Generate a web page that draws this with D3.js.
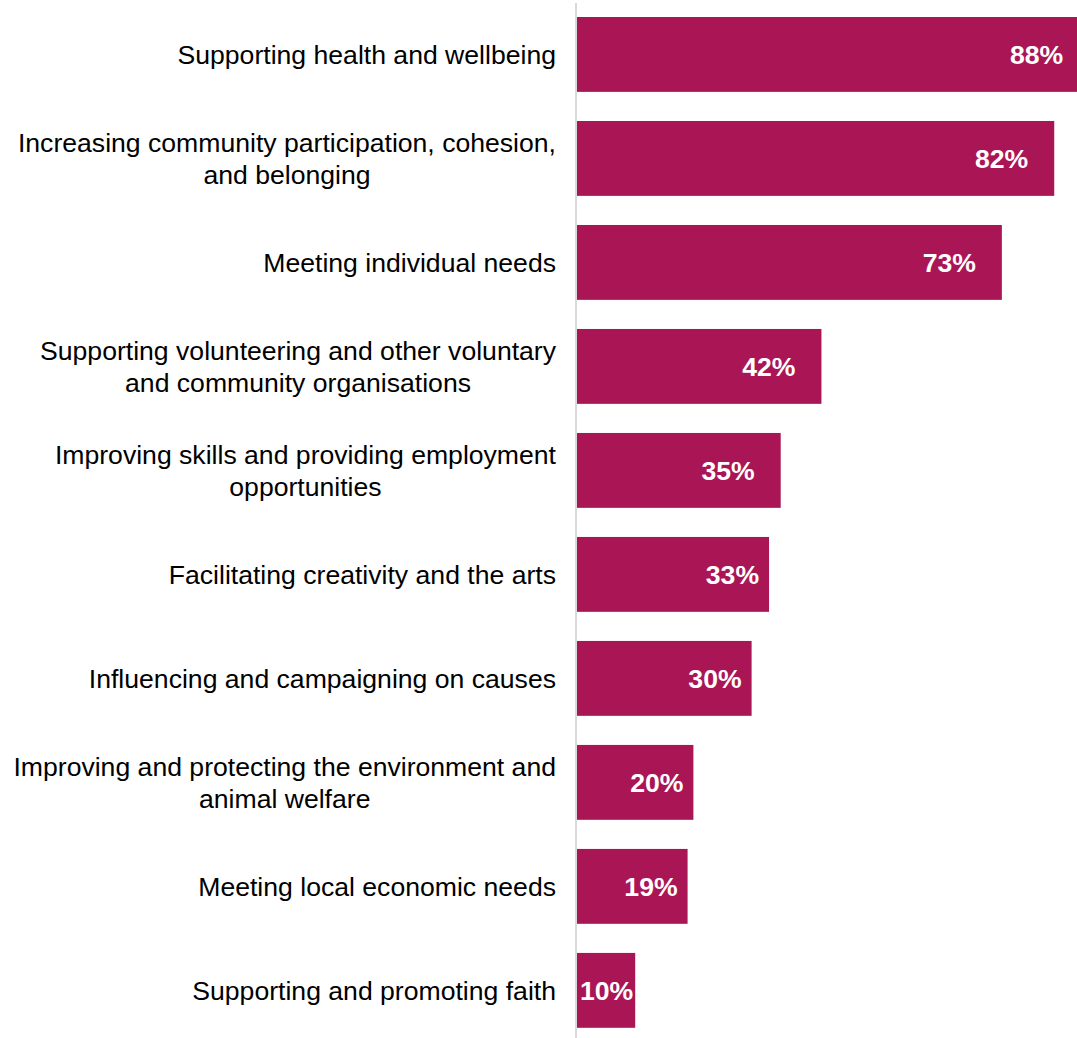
<!DOCTYPE html>
<html>
<head>
<meta charset="utf-8">
<script src="https://cdn.jsdelivr.net/npm/d3@7/dist/d3.min.js"></script>
<style>
  html, body { margin: 0; padding: 0; background: #ffffff; }
  svg { display: block; }
</style>
</head>
<body>
<svg id="chart" width="1077" height="1038"></svg>
<script>
// Categories (line breaks mark where the label wraps) and their shares, in %
const categories = [
  "Supporting health and wellbeing",
  "Increasing community participation, cohesion,\nand belonging",
  "Meeting individual needs",
  "Supporting volunteering and other voluntary\nand community organisations",
  "Improving skills and providing employment\nopportunities",
  "Facilitating creativity and the arts",
  "Influencing and campaigning on causes",
  "Improving and protecting the environment and\nanimal welfare",
  "Meeting local economic needs",
  "Supporting and promoting faith"
];
const values = [88, 82, 73, 42, 35, 33, 30, 20, 19, 10];
const valueLabels = ["88%", "82%", "73%", "42%", "35%", "33%", "30%", "20%", "19%", "10%"];

const barColor = "#aa1655";
const fontFamily = "'Liberation Sans', Arial, Helvetica, sans-serif";
const fontSize = 26.6;

const svg = d3.select("#chart");
const W = 1077, H = 1038;

const x = d3.scaleLinear().domain([0, 100]).range([577, 1159]);
const y = d3.scaleBand()
  .domain(categories)
  .range([1.4, 1043.4])
  .paddingInner(0.28)
  .paddingOuter(0.15);

const rows = categories.map((c, i) => ({ cat: c, value: values[i], label: valueLabels[i] }));

// Bars
svg.append("g")
  .selectAll("rect")
  .data(rows)
  .join("rect")
  .attr("x", x(0))
  .attr("y", d => y(d.cat))
  .attr("width", d => x(d.value) - x(0))
  .attr("height", y.bandwidth())
  .attr("fill", barColor);

// Vertical category axis line
svg.append("line")
  .attr("x1", x(0) - 1).attr("x2", x(0) - 1)
  .attr("y1", 3).attr("y2", H)
  .attr("stroke", "#d9d9d9")
  .attr("stroke-width", 2);

// Category labels: right-aligned block, wrapped lines centred within it
const labelRight = x(0) - 21;
const lineGap = 32;
const catG = svg.append("g")
  .attr("font-family", fontFamily)
  .attr("font-size", fontSize)
  .attr("fill", "#000000");

rows.forEach(d => {
  const lines = d.cat.split("\n");
  const cy = y(d.cat) + y.bandwidth() / 2;
  const t = catG.append("text").attr("text-anchor", "middle");
  const spans = lines.map((ln, j) =>
    t.append("tspan")
      .attr("y", cy + (j - (lines.length - 1) / 2) * lineGap)
      .attr("dy", "0.36em")
      .text(ln)
  );
  const blockW = d3.max(spans, s => s.node().getComputedTextLength());
  spans.forEach(s => s.attr("x", labelRight - blockW / 2));
});

// Value labels inside the bars, near the bar end
const valG = svg.append("g")
  .attr("font-family", fontFamily)
  .attr("font-size", fontSize)
  .attr("font-weight", "bold")
  .attr("fill", "#ffffff");

rows.forEach(d => {
  const barW = x(d.value) - x(0);
  const t = valG.append("text")
    .attr("text-anchor", "end")
    .attr("y", y(d.cat) + y.bandwidth() / 2)
    .attr("dy", "0.35em")
    .text(d.label);
  const tw = t.node().getComputedTextLength();
  const pad = barW > 200 ? 26 : 10;
  const end = Math.max(x(d.value) - pad, x(0) + 3 + tw);
  t.attr("x", end);
});
</script>
</body>
</html>
